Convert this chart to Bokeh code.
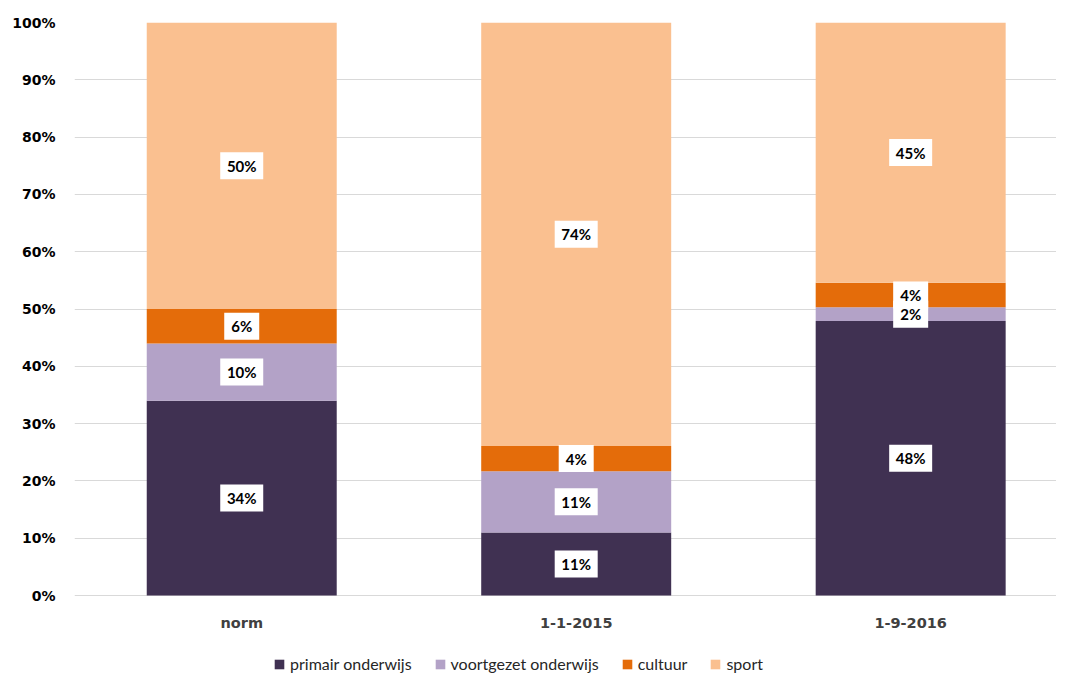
from bokeh.plotting import figure
from bokeh.models import (ColumnDataSource, Range1d, FixedTicker, Legend, LegendItem,
                          CustomJSTickFormatter)
from bokeh.core.properties import value
from bokeh.embed import file_html
from bokeh.resources import INLINE

categories = ["norm", "1-1-2015", "1-9-2016"]
series = ["primair onderwijs", "voortgezet onderwijs", "cultuur", "sport"]
primair = [34.0, 11.0, 47.9]
voortgezet = [10.0, 10.7, 2.4]
cultuur = [6.0, 4.4, 4.3]
sport = [50.0, 73.9, 45.4]
colors = ["#403152", "#B3A2C7", "#E46C0A", "#FAC090"]
y_ticks = [0, 10, 20, 30, 40, 50, 60, 70, 80, 90, 100]

values = [primair, voortgezet, cultuur, sport]
xs = list(range(len(categories)))

# frame extended below 0% to host category labels and legend
px_per_unit = 5.73
bottom_px = 78
y_start = -bottom_px / px_per_unit

p = figure(frame_width=982, frame_height=573 + bottom_px, output_backend="svg",
           toolbar_location=None,
           x_range=Range1d(-0.5, 2.436), y_range=Range1d(y_start, 100),
           min_border_left=74, min_border_top=22, min_border_right=0, min_border_bottom=0)
p.outline_line_color = None
p.background_fill_color = "white"

bottoms = [0.0] * len(categories)
renderers = []
lab_x, lab_y, lab_t, lab_w = [], [], [], []
for name, vals, col in zip(series, values, colors):
    tops = [b + v for b, v in zip(bottoms, vals)]
    src = ColumnDataSource(dict(x=xs, bottom=bottoms, top=tops))
    r = p.vbar(x="x", bottom="bottom", top="top", width=0.568, source=src,
               fill_color=col, line_color=None)
    renderers.append((name, r))
    for i in xs:
        t = f"{round(vals[i])}%"
        lab_x.append(i)
        lab_y.append((bottoms[i] + tops[i]) / 2)
        lab_t.append(t)
        lab_w.append(8 * len(t) + 19)
    bottoms = tops

lsrc = ColumnDataSource(dict(x=lab_x, y=lab_y, t=lab_t, w=lab_w))
p.rect(x="x", y="y", width="w", height=27, width_units="screen", height_units="screen",
       source=lsrc, fill_color="white", line_color=None)
p.text(x="x", y="y", text="t", source=lsrc, text_align="center", text_baseline="middle",
       text_font=value("Lato"), text_font_style="bold", text_font_size="15px",
       text_color="black")

# category labels below the bars
csrc = ColumnDataSource(dict(x=xs, t=categories))
p.text(x="x", y=-27 / px_per_unit, text="t", source=csrc, text_align="center",
       text_baseline="middle", text_font=value("DejaVu Sans"), text_font_style="bold",
       text_font_size="14.5px", text_color="#404040")

p.yaxis.ticker = FixedTicker(ticks=y_ticks)
p.yaxis.formatter = CustomJSTickFormatter(code="return tick.toFixed(0) + '%';")
p.yaxis.axis_line_color = None
p.yaxis.major_tick_line_color = None
p.yaxis.minor_tick_line_color = None
p.yaxis.major_label_text_font = "DejaVu Sans"
p.yaxis.major_label_text_font_style = "bold"
p.yaxis.major_label_text_font_size = "14px"
p.yaxis.major_label_text_color = "#000000"
p.yaxis.major_label_standoff = 13

p.xaxis.visible = False

p.xgrid.grid_line_color = None
p.ygrid.grid_line_color = "#D9D9D9"
p.ygrid.ticker = FixedTicker(ticks=y_ticks)

legend = Legend(items=[LegendItem(label=n, renderers=[r]) for n, r in renderers],
                orientation="horizontal", location=(199, 0),
                glyph_width=12, glyph_height=12, label_standoff=5, spacing=22,
                label_text_font="Lato", label_text_font_size="16px",
                label_text_color="#262626", border_line_color=None,
                background_fill_alpha=0, padding=0, margin=0)
p.add_layout(legend)

open("out.html", "w").write(file_html(p, INLINE))
